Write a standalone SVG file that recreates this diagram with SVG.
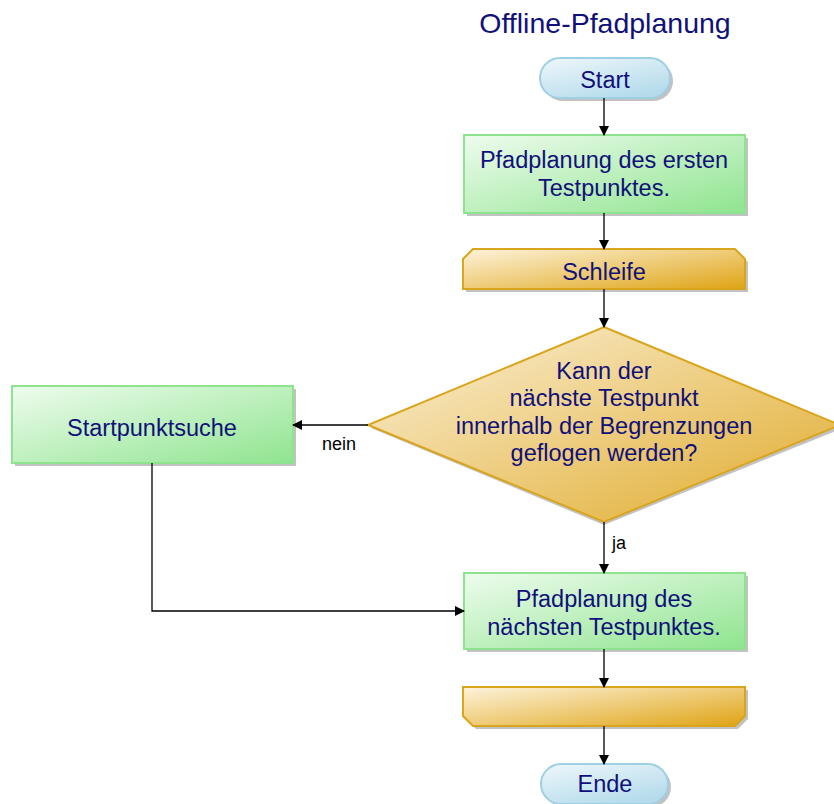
<svg xmlns="http://www.w3.org/2000/svg" width="834" height="804" viewBox="0 0 834 804">
<defs>
<linearGradient id="gGreen" x1="0" y1="0" x2="1" y2="1">
<stop offset="0" stop-color="#eefcee"/><stop offset="1" stop-color="#8fe48f"/>
</linearGradient>
<linearGradient id="gGold" x1="0" y1="0" x2="1" y2="1">
<stop offset="0" stop-color="#fdf3dc"/><stop offset="1" stop-color="#dfa415"/>
</linearGradient>
<linearGradient id="gGoldD" x1="0" y1="0" x2="1" y2="1">
<stop offset="0" stop-color="#fbf1d8"/><stop offset="1" stop-color="#e0aa2a"/>
</linearGradient>
<linearGradient id="gBlue" x1="0" y1="0" x2="0.6" y2="1">
<stop offset="0" stop-color="#eef7fb"/><stop offset="1" stop-color="#b6dcec"/>
</linearGradient>
<marker id="arr" markerWidth="10" markerHeight="10" refX="9" refY="5" orient="auto" markerUnits="userSpaceOnUse">
<path d="M0,0 L10,5 L0,10 z" fill="#000"/>
</marker>
</defs>
<style>
.t{font-family:"Liberation Sans",Arial,sans-serif;fill:#10107a;text-anchor:middle}
.big{font-size:23.5px}
.lbl{font-family:"Liberation Sans",Arial,sans-serif;fill:#000;font-size:18px}
.sh{fill:#9a9a9a;opacity:0.6}
.green{fill:url(#gGreen);stroke:#8ee48e;stroke-width:2}
.gold{fill:url(#gGold);stroke:#d9a51c;stroke-width:2}
.blue{fill:url(#gBlue);stroke:#9fcfe3;stroke-width:2}
.c{fill:none;stroke:#000;stroke-width:1.3}
</style>
<rect width="834" height="804" fill="#fff"/>
<text class="t" x="605" y="33" font-size="28.5">Offline-Pfadplanung</text>

<g id="start">
<rect class="sh" x="543" y="61" width="130" height="40" rx="20"/>
<rect class="blue" x="540" y="58" width="130" height="40" rx="20"/>
<text class="t big" x="605" y="87.5">Start</text>
</g>

<g id="box1">
<rect class="sh" x="467" y="138" width="281" height="78"/>
<rect class="green" x="464" y="135" width="281" height="78"/>
<text class="t big" x="604" y="168">Pfadplanung des ersten</text>
<text class="t big" x="604" y="196">Testpunktes.</text>
</g>

<g id="schleife">
<path class="sh" d="M476,252 L738,252 L748,262 L748,292 L466,292 L466,262 z"/>
<path class="gold" d="M473,249 L735,249 L745,259 L745,289 L463,289 L463,259 z"/>
<text class="t big" x="604" y="279.5">Schleife</text>
</g>

<g id="decision">
<path class="sh" d="M604,330 L843,428 L604,525 L371,428 z" fill="#8aa0c0"/>
<path d="M604,327 L840,425 L604,522 L368,425 z" fill="url(#gGoldD)" stroke="#d9a51c" stroke-width="2"/>
<text class="t big" x="604" y="378.5">Kann der</text>
<text class="t big" x="604" y="405.5">nächste Testpunkt</text>
<text class="t big" x="604" y="433.5">innerhalb der Begrenzungen</text>
<text class="t big" x="604" y="460.5">geflogen werden?</text>
</g>

<g id="startpunktsuche">
<rect class="sh" x="15" y="389" width="281" height="77"/>
<rect class="green" x="12" y="386" width="281" height="77"/>
<text class="t big" x="152" y="435.5">Startpunktsuche</text>
</g>

<g id="box2">
<rect class="sh" x="467" y="576" width="281" height="76"/>
<rect class="green" x="464" y="573" width="281" height="76"/>
<text class="t big" x="604" y="606.5">Pfadplanung des</text>
<text class="t big" x="604" y="634.5">nächsten Testpunktes.</text>
</g>

<g id="endschleife">
<path class="sh" d="M466,690 L748,690 L748,719 L738,729 L476,729 L466,719 z"/>
<path class="gold" d="M463,687 L745,687 L745,716 L735,726 L473,726 L463,716 z"/>
</g>

<g id="ende">
<rect class="sh" x="544" y="767" width="127" height="40" rx="20"/>
<rect class="blue" x="541" y="764" width="127" height="40" rx="20"/>
<text class="t big" x="605" y="791.5">Ende</text>
</g>

<g id="connectors">
<line class="c" x1="604" y1="98" x2="604" y2="135" marker-end="url(#arr)"/>
<line class="c" x1="604" y1="213" x2="604" y2="249" marker-end="url(#arr)"/>
<line class="c" x1="604" y1="289" x2="604" y2="327" marker-end="url(#arr)"/>
<line class="c" x1="368" y1="425" x2="293" y2="425" marker-end="url(#arr)"/>
<text class="lbl" x="322" y="450">nein</text>
<line class="c" x1="604" y1="522" x2="604" y2="573" marker-end="url(#arr)"/>
<text class="lbl" x="612" y="549">ja</text>
<polyline class="c" points="152,463 152,611 464,611" marker-end="url(#arr)"/>
<line class="c" x1="604" y1="649" x2="604" y2="687" marker-end="url(#arr)"/>
<line class="c" x1="604" y1="726" x2="604" y2="764" marker-end="url(#arr)"/>
</g>
</svg>
